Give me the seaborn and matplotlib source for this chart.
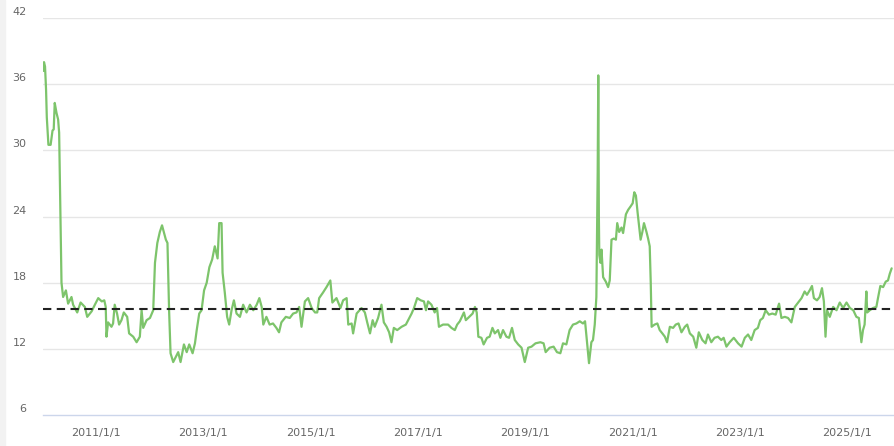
import pandas as pd
import seaborn as sns
import matplotlib.pyplot as plt
from matplotlib.transforms import ScaledTranslation
from matplotlib.patches import Rectangle

# Series
dates = [
    "2010-01-09", "2010-01-14", "2010-01-21", "2010-01-28", "2010-02-02", "2010-02-13",
    "2010-02-28", "2010-03-13", "2010-03-21", "2010-03-28", "2010-04-09", "2010-04-20",
    "2010-04-27", "2010-05-06", "2010-05-13", "2010-05-24", "2010-06-12", "2010-06-27",
    "2010-07-20", "2010-07-31", "2010-08-28", "2010-09-20", "2010-10-19", "2010-11-04",
    "2010-12-04", "2010-12-26", "2011-01-18", "2011-02-11", "2011-02-28", "2011-03-10",
    "2011-03-15", "2011-03-26", "2011-04-18", "2011-04-29", "2011-05-10", "2011-05-26",
    "2011-06-09", "2011-06-25", "2011-07-11", "2011-08-03", "2011-08-16", "2011-09-13",
    "2011-10-06", "2011-10-28", "2011-11-09", "2011-11-20", "2011-12-13", "2012-01-05",
    "2012-01-27", "2012-02-08", "2012-02-24", "2012-03-12", "2012-03-27", "2012-04-08",
    "2012-04-22", "2012-05-03", "2012-05-14", "2012-05-24", "2012-06-11", "2012-07-04",
    "2012-07-15", "2012-07-31", "2012-08-23", "2012-09-11", "2012-09-28", "2012-10-21",
    "2012-11-06", "2012-11-18", "2012-12-05", "2012-12-21", "2013-01-07", "2013-01-25",
    "2013-02-12", "2013-03-03", "2013-03-21", "2013-04-09", "2013-04-20", "2013-05-06",
    "2013-05-13", "2013-05-28", "2013-06-13", "2013-06-27", "2013-07-13", "2013-07-29",
    "2013-08-16", "2013-09-08", "2013-09-30", "2013-10-23", "2013-11-15", "2013-12-08",
    "2013-12-31", "2014-01-18", "2014-02-03", "2014-02-14", "2014-03-07", "2014-03-29",
    "2014-04-21", "2014-05-14", "2014-06-01", "2014-06-17", "2014-07-17", "2014-08-13",
    "2014-09-05", "2014-09-28", "2014-10-16", "2014-11-01", "2014-11-24", "2014-12-16",
    "2015-01-09", "2015-02-01", "2015-02-16", "2015-03-01", "2015-03-27", "2015-04-20",
    "2015-05-16", "2015-05-30", "2015-06-27", "2015-07-24", "2015-08-11", "2015-09-04",
    "2015-09-15", "2015-10-08", "2015-10-18", "2015-11-11", "2015-12-14", "2016-01-06",
    "2016-01-22", "2016-02-10", "2016-02-28", "2016-03-13", "2016-04-05", "2016-04-28",
    "2016-05-14", "2016-06-02", "2016-06-19", "2016-07-05", "2016-07-21", "2016-08-13",
    "2016-09-12", "2016-10-11", "2016-11-03", "2016-11-19", "2016-12-05", "2016-12-27",
    "2017-01-20", "2017-02-11", "2017-02-25", "2017-03-11", "2017-04-03", "2017-04-25",
    "2017-05-11", "2017-05-24", "2017-06-21", "2017-07-25", "2017-08-17", "2017-09-09",
    "2017-09-25", "2017-10-13", "2017-11-10", "2017-11-23", "2017-12-16", "2018-01-08",
    "2018-01-24", "2018-02-05", "2018-02-16", "2018-03-09", "2018-03-24", "2018-04-16",
    "2018-05-04", "2018-05-23", "2018-06-08", "2018-06-30", "2018-07-16", "2018-08-03",
    "2018-08-26", "2018-09-13", "2018-10-03", "2018-10-22", "2018-11-14", "2018-12-07",
    "2018-12-29", "2019-01-21", "2019-02-13", "2019-03-12", "2019-04-14", "2019-05-06",
    "2019-05-20", "2019-06-16", "2019-07-13", "2019-08-05", "2019-08-28", "2019-09-15",
    "2019-10-08", "2019-10-30", "2019-11-22", "2019-12-15", "2020-01-07", "2020-01-29",
    "2020-02-12", "2020-02-22", "2020-03-10", "2020-03-26", "2020-04-06", "2020-04-18",
    "2020-04-29", "2020-05-08", "2020-05-12", "2020-05-16", "2020-05-19", "2020-05-27",
    "2020-06-03", "2020-06-14", "2020-07-02", "2020-07-18", "2020-07-29", "2020-08-10",
    "2020-08-26", "2020-09-09", "2020-09-18", "2020-10-01", "2020-10-17", "2020-10-28",
    "2020-11-16", "2020-12-01", "2020-12-17", "2021-01-01", "2021-01-12", "2021-01-23",
    "2021-02-04", "2021-02-15", "2021-02-24", "2021-03-08", "2021-03-19", "2021-04-05",
    "2021-04-16", "2021-04-27", "2021-05-04", "2021-05-10", "2021-05-30", "2021-06-18",
    "2021-07-04", "2021-07-22", "2021-08-08", "2021-08-23", "2021-09-11", "2021-10-03",
    "2021-10-21", "2021-11-09", "2021-11-29", "2021-12-22", "2022-01-07", "2022-01-25",
    "2022-02-17", "2022-03-10", "2022-03-27", "2022-04-20", "2022-05-12", "2022-05-28",
    "2022-06-20", "2022-07-12", "2022-08-04", "2022-08-27", "2022-09-12", "2022-10-01",
    "2022-10-23", "2022-11-20", "2022-12-19", "2023-01-12", "2023-02-03", "2023-02-25",
    "2023-03-19", "2023-04-11", "2023-05-03", "2023-05-19", "2023-06-06", "2023-06-25",
    "2023-07-17", "2023-08-09", "2023-09-01", "2023-09-24", "2023-10-10", "2023-11-02",
    "2023-11-24", "2023-12-17", "2024-01-09", "2024-02-01", "2024-02-24", "2024-03-16",
    "2024-04-01", "2024-04-19", "2024-05-05", "2024-05-18", "2024-06-08", "2024-06-26",
    "2024-07-12", "2024-07-25", "2024-08-05", "2024-08-15", "2024-09-03", "2024-09-26",
    "2024-10-19", "2024-11-10", "2024-12-03", "2024-12-26", "2025-01-18", "2025-02-10",
    "2025-03-03", "2025-03-20", "2025-04-06", "2025-04-17", "2025-04-28", "2025-05-10",
    "2025-05-16", "2025-06-02", "2025-06-24", "2025-07-17", "2025-07-28", "2025-08-13",
    "2025-09-01", "2025-09-19", "2025-10-04", "2025-10-16", "2025-10-29",
]
values = [
    37.2, 38.0, 37.6, 35.5, 33.0, 30.5,
    30.5, 31.8, 31.9, 34.3, 33.4, 32.8,
    31.6, 24.0, 18.0, 16.7, 17.3, 16.1,
    16.7, 16.0, 15.3, 16.2, 15.8, 14.9,
    15.4, 16.0, 16.6, 16.3, 16.4, 15.8,
    13.1, 14.4, 14.0, 14.3, 16.0, 15.2,
    14.2, 14.6, 15.3, 14.9, 13.4, 13.1,
    12.6, 13.1, 15.5, 13.9, 14.6, 14.8,
    15.5, 19.8, 21.6, 22.6, 23.2, 22.6,
    21.9, 21.6, 15.5, 11.6, 10.8, 11.4,
    11.7, 10.8, 12.4, 11.7, 12.4, 11.6,
    12.5, 13.7, 15.2, 15.5, 17.3, 18.0,
    19.4, 20.1, 21.3, 20.2, 23.4, 23.4,
    18.9, 17.1, 14.9, 14.2, 15.5, 16.4,
    15.2, 14.9, 16.0, 15.3, 16.0, 15.5,
    16.0, 16.6, 15.8, 14.2, 14.9, 14.2,
    14.3, 13.9, 13.5, 14.4, 14.9, 14.8,
    15.2, 15.3, 15.8, 14.0, 16.3, 16.6,
    15.7, 15.3, 15.3, 16.6, 17.1, 17.6,
    18.2, 16.2, 16.6, 15.7, 16.4, 16.6,
    14.2, 14.3, 13.4, 15.2, 15.7, 15.3,
    14.4, 13.4, 14.6, 14.0, 14.8, 16.0,
    14.4, 14.0, 13.5, 12.6, 13.9, 13.7,
    14.0, 14.2, 14.8, 15.2, 15.7, 16.6,
    16.4, 16.3, 15.5, 16.3, 16.0, 15.3,
    15.7, 14.0, 14.2, 14.2, 13.9, 13.7,
    14.2, 14.5, 15.3, 14.6, 14.9, 15.2,
    15.8, 15.3, 13.1, 13.0, 12.4, 13.0,
    13.1, 13.9, 13.4, 13.7, 13.0, 13.7,
    13.1, 13.0, 13.9, 12.8, 12.4, 12.1,
    10.8, 12.1, 12.2, 12.5, 12.6, 12.5,
    11.7, 12.1, 12.2, 11.7, 11.6, 12.5,
    12.4, 13.7, 14.2, 14.3, 14.5, 14.3,
    14.5, 13.1, 10.7, 12.6, 12.8, 14.2,
    16.7, 28.0, 36.8, 24.0, 20.5, 19.8,
    21.0, 18.5, 18.1, 17.6, 18.2, 21.9,
    22.0, 21.9, 23.4, 22.6, 23.0, 22.5,
    24.2, 24.6, 24.9, 25.2, 26.2, 25.9,
    24.3, 23.0, 21.9, 22.6, 23.4, 22.6,
    22.0, 21.3, 18.0, 14.0, 14.2, 14.3,
    13.7, 13.4, 13.1, 12.6, 14.0, 13.9,
    14.2, 14.3, 13.5, 14.0, 14.2, 13.4,
    13.1, 12.1, 13.5, 12.8, 12.5, 13.3,
    12.6, 13.0, 13.1, 12.8, 13.0, 12.2,
    12.6, 13.0, 12.5, 12.2, 13.0, 13.3,
    12.8, 13.7, 13.9, 14.6, 14.8, 15.5,
    15.1, 15.2, 15.1, 16.1, 14.8, 14.9,
    14.8, 14.4, 15.8, 16.2, 16.6, 17.2,
    16.9, 17.3, 17.7, 16.6, 16.4, 16.7,
    17.5, 16.3, 13.1, 15.5, 14.9, 15.8,
    15.5, 16.2, 15.7, 16.2, 15.7, 15.5,
    14.9, 14.8, 12.6, 13.7, 14.2, 17.2,
    15.3, 15.5, 15.7, 15.8, 16.6, 17.7,
    17.6, 18.1, 18.2, 18.8, 19.3,
]
mean_level = 15.6
y_ticks = [6, 12, 18, 24, 30, 36, 42]
x_tick_dates = ["2011-01-01", "2013-01-01", "2015-01-01", "2017-01-01",
                "2019-01-01", "2021-01-01", "2023-01-01", "2025-01-01"]
x_tick_labels = ["2011/1/1", "2013/1/1", "2015/1/1", "2017/1/1",
                 "2019/1/1", "2021/1/1", "2023/1/1", "2025/1/1"]

df = pd.DataFrame({"date": pd.to_datetime(dates), "value": values})

sns.set_style("white")
plt.rcParams["font.family"] = ["DejaVu Sans"]

fig = plt.figure(figsize=(8.94, 4.46), dpi=100)
ax = fig.add_axes([0.0484, 0.0695, 0.9516, 0.8901])

# faint strip at the far left of the picture
fig.patches.append(Rectangle((0, 0), 5 / 894, 1, transform=fig.transFigure,
                             color="#f2f2f2", zorder=0))

for t in y_ticks[1:]:
    ax.axhline(t, color="#e6e6e6", lw=1, zorder=1)

sns.lineplot(data=df, x="date", y="value", color="#7dc46b", lw=1.6, ax=ax, zorder=3)
ax.axhline(mean_level, color="#222222", lw=1.5, ls=(0, (4, 2.6)), zorder=4)

ax.set_ylim(6, 42)
ax.set_xlim(pd.Timestamp("2010-01-09"), pd.Timestamp("2025-11-14"))
ax.set_yticks(y_ticks)
ax.set_yticklabels([str(t) for t in y_ticks])
ax.set_xticks(pd.to_datetime(x_tick_dates))
ax.set_xticklabels(x_tick_labels)
ax.set_xlabel("")
ax.set_ylabel("")

for side in ["top", "right", "left"]:
    ax.spines[side].set_visible(False)
ax.spines["bottom"].set_color("#ccd6eb")
ax.spines["bottom"].set_linewidth(1)

ax.tick_params(axis="y", length=0, pad=12, labelsize=8, labelcolor="#666666")
ax.tick_params(axis="x", length=5, width=1, color="#ccd6eb", pad=4,
               labelsize=8, labelcolor="#666666")

# y labels sit slightly above their grid lines
shift = ScaledTranslation(0, 5 / 72, fig.dpi_scale_trans)
for lab in ax.get_yticklabels():
    lab.set_transform(lab.get_transform() + shift)

fig.savefig("out.png", dpi=100)
